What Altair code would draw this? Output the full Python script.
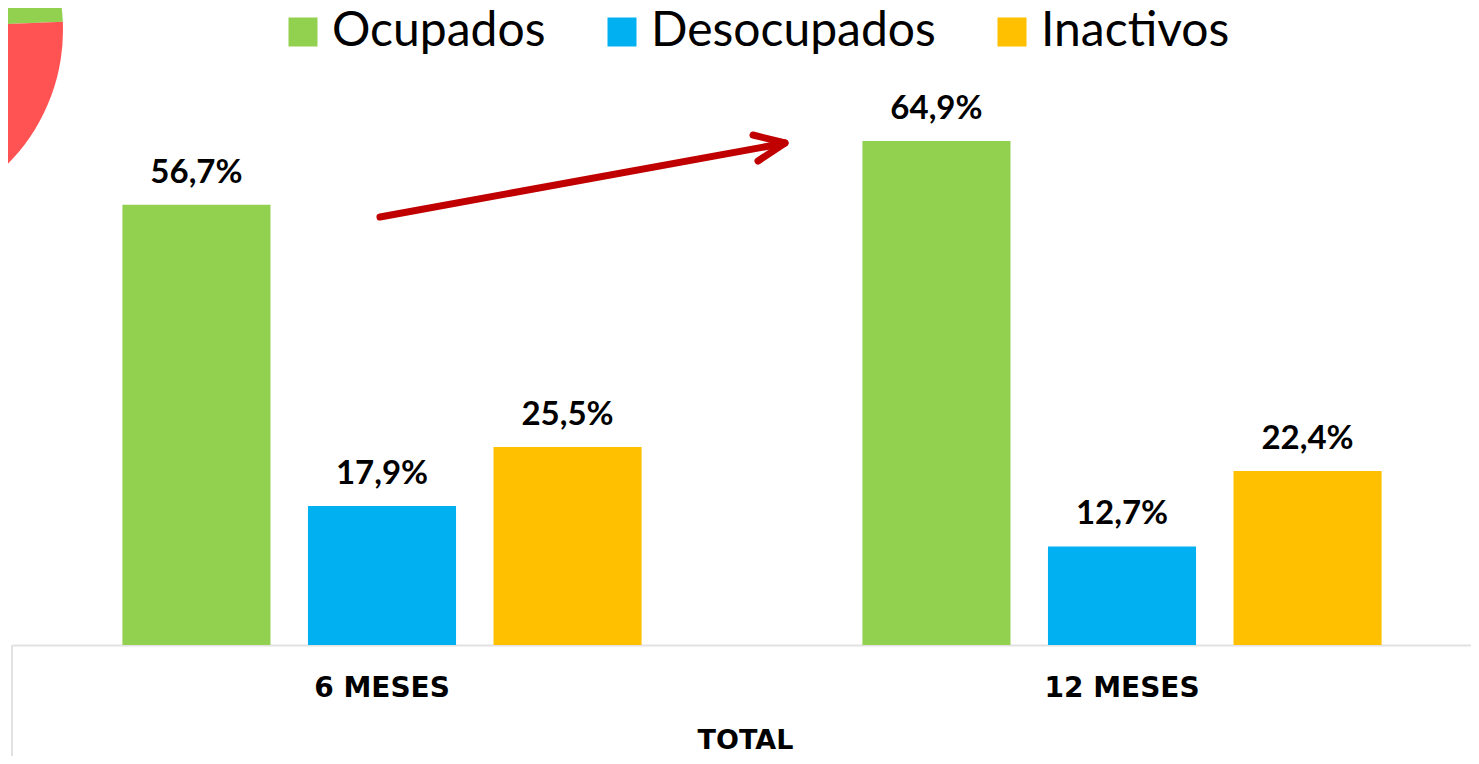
import altair as alt
import pandas as pd

# ---- data ----
periods = ["6 MESES", "12 MESES"]
groups = ["Ocupados", "Desocupados", "Inactivos"]
ocupados = [56.7, 64.9]
desocupados = [17.9, 12.7]
inactivos = [25.5, 22.4]

# partial pie visible in the top-left corner (estimated shares)
pie_parts = ["verde", "rojo"]
pie_values = [24.3, 75.7]

colors = ["#92D050", "#00B0F0", "#FFC000"]

rows = []
for i, p in enumerate(periods):
    for g, vals in zip(groups, [ocupados, desocupados, inactivos]):
        rows.append({"periodo": p, "grupo": g, "valor": vals[i]})
df = pd.DataFrame(rows)

pie_df = pd.DataFrame({"parte": pie_parts, "valor": pie_values, "orden": [0, 1]})
one = pd.DataFrame({"k": [0]})

W, H = 1480, 637

x_enc = alt.X(
    "periodo:N",
    sort=periods,
    scale=alt.Scale(paddingInner=0, paddingOuter=0),
    axis=alt.Axis(
        title="TOTAL",
        labelAngle=0,
        labelFont="DejaVu Sans",
        labelFontWeight="bold",
        labelFontSize=28,
        labelColor="#000000",
        labelBaseline="middle",
        labelPadding=43,
        ticks=False,
        tickSize=0,
        domainColor="#e2e2e2",
        domainWidth=2,
        titleFont="DejaVu Sans",
        titleFontWeight="bold",
        titleFontSize=27,
        titleColor="#000000",
        titleBaseline="middle",
        titleY=95,
        titleX=733,
        titleAlign="center",
        titleAnchor="start",
    ),
)
xoff = alt.XOffset("grupo:N", sort=groups, scale=alt.Scale(paddingInner=0.202, paddingOuter=0.595))
y_enc = alt.Y("valor:Q", scale=alt.Scale(domain=[0, 82.03], nice=False, zero=True), axis=None)

base = alt.Chart(df)

bars = base.mark_bar().encode(
    x=x_enc,
    xOffset=xoff,
    y=y_enc,
    color=alt.Color(
        "grupo:N",
        sort=groups,
        scale=alt.Scale(domain=groups, range=colors),
        legend=alt.Legend(
            title=None,
            orient="none",
            legendX=267,
            legendY=0,
            direction="horizontal",
            symbolType="square",
            symbolSize=841,
            symbolStrokeWidth=0,
            symbolOpacity=1,
            labelFont="Lato",
            labelFontSize=48,
            labelColor="#000000",
            labelOffset=5,
            labelLimit=0,
            columnPadding=52,
            padding=0,
        ),
    ),
)

labels = base.transform_calculate(
    txt="replace(format(datum.valor, '.1f'), '.', ',') + '%'"
).mark_text(
    font="Lato", fontWeight="bold", fontSize=33, color="#000000", dy=-22, baseline="alphabetic"
).encode(
    x=alt.X("periodo:N", sort=periods),
    xOffset=alt.XOffset("grupo:N", sort=groups),
    y=alt.Y("valor:Q"),
    text="txt:N",
)

pie = alt.Chart(pie_df).mark_arc(radius=190).encode(
    theta=alt.Theta("valor:Q", stack=True),
    order=alt.Order("orden:Q"),
    color=alt.Color(
        "parte:N",
        scale=alt.Scale(domain=pie_parts, range=["#92D050", "#FF5353"]),
        legend=None,
    ),
    x=alt.value(-139),
    y=alt.value(22),
)

red = "#C00000"
shaft = alt.Chart(one).mark_rule(color=red, strokeWidth=7, strokeCap="round").encode(
    x=alt.value(368), y=alt.value(209), x2=alt.value(771), y2=alt.value(135.5)
)
arm1 = alt.Chart(one).mark_rule(color=red, strokeWidth=7, strokeCap="round").encode(
    x=alt.value(741), y=alt.value(127), x2=alt.value(773), y2=alt.value(135)
)
arm2 = alt.Chart(one).mark_rule(color=red, strokeWidth=7, strokeCap="round").encode(
    x=alt.value(746), y=alt.value(153), x2=alt.value(773), y2=alt.value(135)
)
vline = alt.Chart(one).mark_rule(color="#e2e2e2", strokeWidth=2).encode(
    x=alt.value(0), y=alt.value(H), y2=alt.value(H + 111)
)

chart = (
    alt.layer(pie, bars, labels, shaft, arm1, arm2, vline)
    .resolve_scale(color="independent")
    .properties(
        width=W,
        height=H,
        autosize=alt.AutoSizeParams(type="none"),
        padding={"left": 4, "top": 0, "right": -21, "bottom": 111},
        background="white",
    )
    .configure_view(stroke=None)
)

chart.save("out.html", embed_options={"renderer": "svg", "actions": False})
